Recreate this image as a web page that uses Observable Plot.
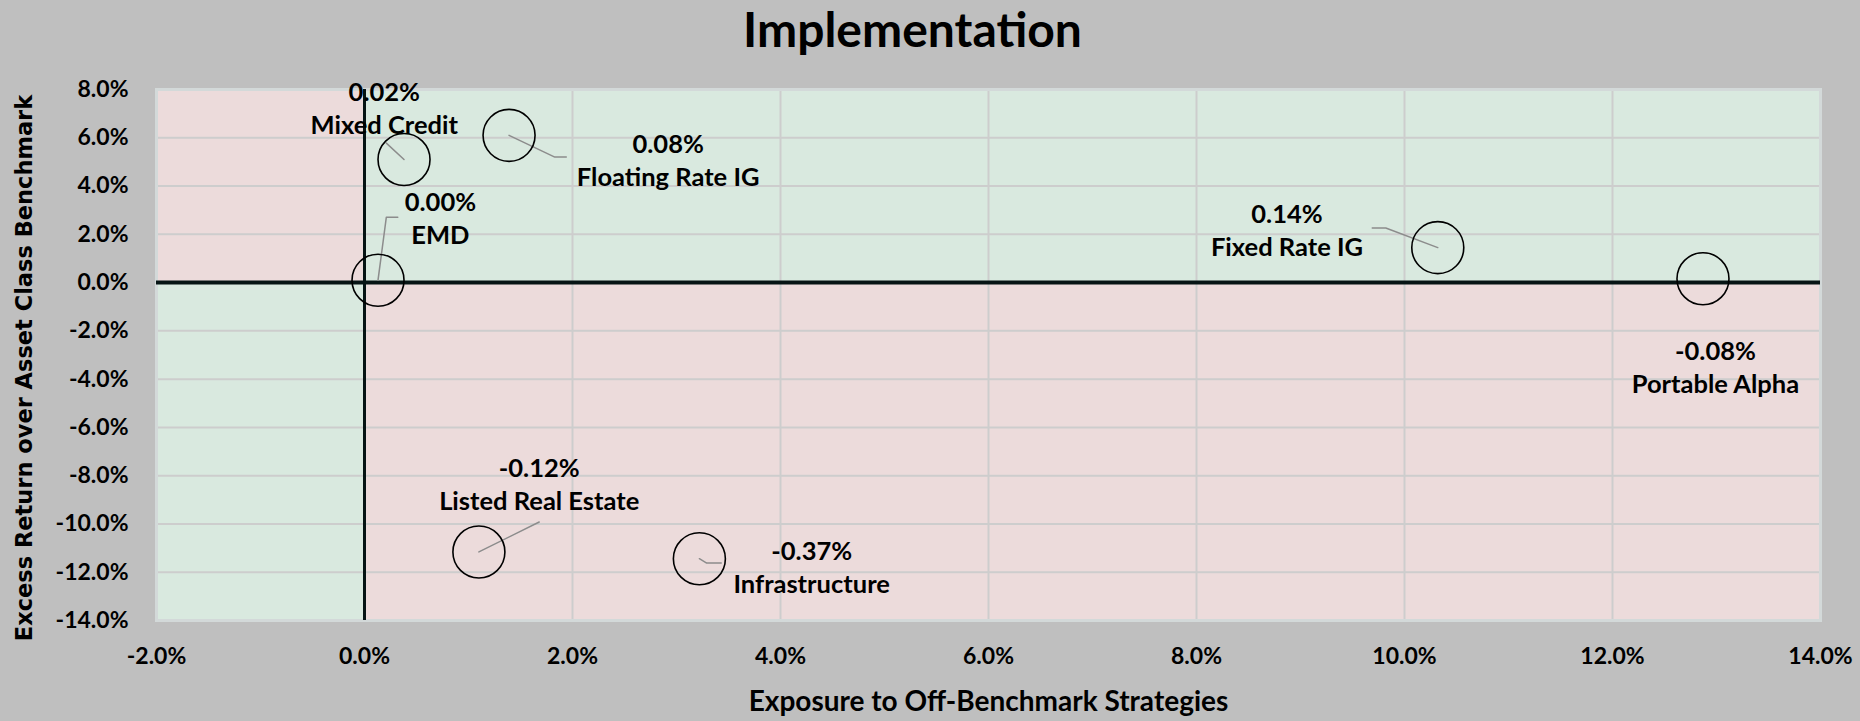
<!DOCTYPE html>
<html>
<head>
<meta charset="utf-8">
<script src="https://cdn.jsdelivr.net/npm/d3@7"></script>
<script src="https://cdn.jsdelivr.net/npm/@observablehq/plot@0.6"></script>
<style>
  html, body { margin: 0; padding: 0; background: #bfbfbf; }
  #chart svg { display: block; }
</style>
</head>
<body>
<div id="chart"></div>
<script>
// ---- data ----
const names = ["Mixed Credit", "Floating Rate IG", "EMD", "Fixed Rate IG", "Portable Alpha", "Listed Real Estate", "Infrastructure"];
const exposure = [0.38, 1.39, 0.13, 10.32, 12.87, 1.10, 3.22];        // % (x)
const excessReturn = [5.1, 6.1, 0.1, 1.45, 0.16, -11.16, -11.44];     // % (y)
const contribution = ["0.02%", "0.08%", "0.00%", "0.14%", "-0.08%", "-0.12%", "-0.37%"];
// label anchors (data units)
const labelX = [0.19, 2.92, 0.73, 8.87, 12.99, 1.68, 4.30];
const labelY = [7.27, 5.14, 2.73, 2.22, -3.44, -8.31, -11.72];
// leader line elbows (data units), per point
const leaderElbows = [
  [[0.21, 5.78]],
  [[1.83, 5.20], [1.94, 5.20]],
  [[0.21, 2.71], [0.32, 2.71]],
  [[9.82, 2.26], [9.69, 2.26]],
  [],
  [[1.68, -9.92]],
  [[3.29, -11.62], [3.43, -11.62]]
];
const xTicks = [-2, 0, 2, 4, 6, 8, 10, 12, 14];
const yTicks = [-14, -12, -10, -8, -6, -4, -2, 0, 2, 4, 6, 8];
const titleText = "Implementation";
const xTitle = "Exposure to Off-Benchmark Strategies";
const yTitle = "Excess Return over Asset Class Benchmark";

// ---- derived tables ----
const points = names.map((n, i) => ({name: n, x: exposure[i], y: excessReturn[i], v: contribution[i], lx: labelX[i], ly: labelY[i]}));
const leaders = [];
points.forEach((p, i) => {
  if (!leaderElbows[i].length) return;
  leaders.push({name: p.name, x: p.x, y: p.y});
  leaderElbows[i].forEach(([x, y]) => leaders.push({name: p.name, x, y}));
});
const xMin = xTicks[0], xMax = xTicks[xTicks.length - 1];
const yMin = yTicks[0], yMax = yTicks[yTicks.length - 1];
const RED = "#ecdbdb", GREEN = "#d9e9df";
const quadrants = [
  {x1: xMin, x2: 0, y1: 0, y2: yMax, fill: RED},
  {x1: 0, x2: xMax, y1: 0, y2: yMax, fill: GREEN},
  {x1: xMin, x2: 0, y1: yMin, y2: 0, fill: GREEN},
  {x1: 0, x2: xMax, y1: yMin, y2: 0, fill: RED}
];
const pct = d => d.toFixed(1) + "%";
const FONT = "Lato, 'Open Sans', sans-serif";

const chart = Plot.plot({
  width: 1860,
  height: 721,
  marginLeft: 156,
  marginRight: 40,
  marginTop: 89,
  marginBottom: 101,
  style: {background: "#bfbfbf", fontFamily: FONT, color: "#000"},
  x: {domain: [xMin, xMax]},
  y: {domain: [yMin, yMax]},
  marks: [
    Plot.rect(quadrants, {x1: "x1", x2: "x2", y1: "y1", y2: "y2", fill: d => d.fill}),
    Plot.gridX(xTicks, {stroke: "#cdcdcd", strokeOpacity: 1, strokeWidth: 2}),
    Plot.gridY(yTicks, {stroke: "#cdcdcd", strokeOpacity: 1, strokeWidth: 2}),
    Plot.frame({stroke: "#d3d9d9", strokeWidth: 3}),
    Plot.ruleY([0], {stroke: "#061414", strokeWidth: 4}),
    Plot.ruleX([0], {stroke: "#061414", strokeWidth: 3}),
    Plot.axisX(xTicks, {tickSize: 0, tickPadding: 27, tickFormat: pct, fontSize: 23, fontWeight: "bold", label: null}),
    Plot.axisY(yTicks, {tickSize: 0, tickPadding: 28, tickFormat: pct, fontSize: 23, fontWeight: "bold", label: null}),
    Plot.line(leaders, {x: "x", y: "y", z: "name", stroke: "#8c8c8c", strokeWidth: 1.5}),
    Plot.dot(points, {x: "x", y: "y", r: 26, stroke: "#000", strokeWidth: 1.6, fill: "none"}),
    Plot.text(points, {x: "lx", y: "ly", text: d => d.v + "\n" + d.name, fontSize: 25.5, fontWeight: "bold", lineHeight: 1.3, fill: "#000"}),
    Plot.text([titleText], {frameAnchor: "top", lineAnchor: "middle", dx: -76, dy: -58, fontSize: 48, fontWeight: "bold", fill: "#000"}),
    Plot.text([xTitle], {frameAnchor: "bottom", lineAnchor: "middle", dy: 82, fontSize: 28, fontWeight: "bold", fill: "#000"}),
    Plot.text([yTitle], {frameAnchor: "left", textAnchor: "middle", lineAnchor: "middle", dx: -132, dy: 13, rotate: -90, fontSize: 22.5, fontWeight: "bold", fill: "#000", fontFamily: "'DejaVu Sans', sans-serif"})
  ]
});
document.getElementById("chart").append(chart);
</script>
</body>
</html>
